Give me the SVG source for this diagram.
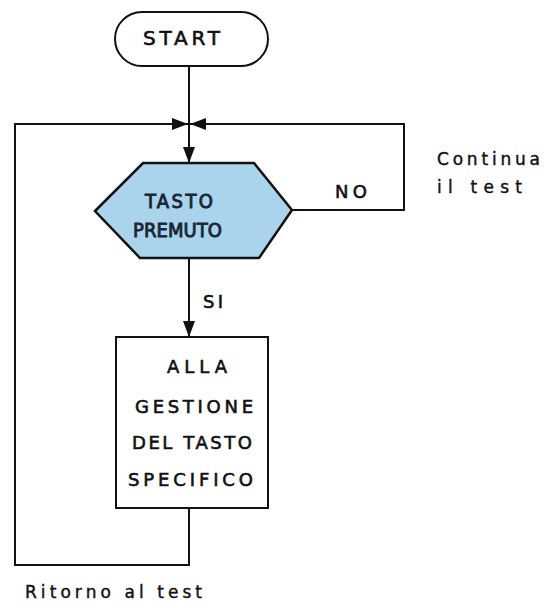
<svg xmlns="http://www.w3.org/2000/svg" width="554" height="602" viewBox="0 0 554 602">
<style>
.ln{fill:none;stroke:#111;stroke-width:2}
.sh{fill:#fff;stroke:#111;stroke-width:2}
.t{font-family:"DejaVu Sans","Liberation Sans",sans-serif;fill:#111;stroke:#111;stroke-width:0.6}
.h{font-family:"DejaVu Sans Condensed","DejaVu Sans","Liberation Sans",sans-serif;fill:#1a2535;stroke:#1a2535;stroke-width:0.9;font-size:20px}
.s{font-size:18px}
.l{font-size:17px;stroke-width:0.4}
</style>
<defs>
<marker id="ah" viewBox="0 0 16 12" refX="16" refY="6" markerWidth="16" markerHeight="12" markerUnits="userSpaceOnUse" orient="auto">
<path d="M0,0 L16,6 L0,12 z" fill="#111"/>
</marker>
</defs>
<rect width="554" height="602" fill="#fff"/>
<g id="connectors">
<path class="ln" d="M189,66 V163" marker-end="url(#ah)"/>
<path class="ln" d="M292,210 H404 V124 H190" marker-end="url(#ah)"/>
<path class="ln" d="M189,258 V337" marker-end="url(#ah)"/>
<path class="ln" d="M189,508 V565 H15 V124 H188" marker-end="url(#ah)"/>
<text class="t s" x="335" y="198" textLength="32" lengthAdjust="spacing">NO</text>
<text class="t s" x="203" y="308" textLength="20" lengthAdjust="spacing">SI</text>
<text class="t l" x="437" y="165" textLength="103" lengthAdjust="spacing">Continua</text>
<text class="t l" x="437" y="193" textLength="85" lengthAdjust="spacing">il  test</text>
<text class="t l" x="25" y="598" textLength="177" lengthAdjust="spacing">Ritorno al test</text>
</g>
<g id="start">
<rect class="sh" x="115" y="12" width="153" height="54" rx="27" ry="27"/>
<text class="t" font-size="20" x="143" y="45" textLength="77" lengthAdjust="spacing">START</text>
</g>
<g id="tasto-premuto">
<polygon points="95,211 143,163 254,163 292,210 259,258 140,258" fill="#a9d4ec" stroke="#111" stroke-width="2.5" stroke-linejoin="miter"/>
<text class="h" x="145" y="208" textLength="68" lengthAdjust="spacing">TASTO</text>
<text class="h" x="133" y="237" textLength="89" lengthAdjust="spacing">PREMUTO</text>
</g>
<g id="gestione">
<rect class="sh" x="116" y="337" width="152" height="171"/>
<text class="t s" x="167" y="373" textLength="60" lengthAdjust="spacing">ALLA</text>
<text class="t s" x="135" y="413" textLength="118" lengthAdjust="spacing">GESTIONE</text>
<text class="t s" x="132" y="449" textLength="120" lengthAdjust="spacing">DEL TASTO</text>
<text class="t s" x="128" y="486" textLength="125" lengthAdjust="spacing">SPECIFICO</text>
</g>
</svg>
